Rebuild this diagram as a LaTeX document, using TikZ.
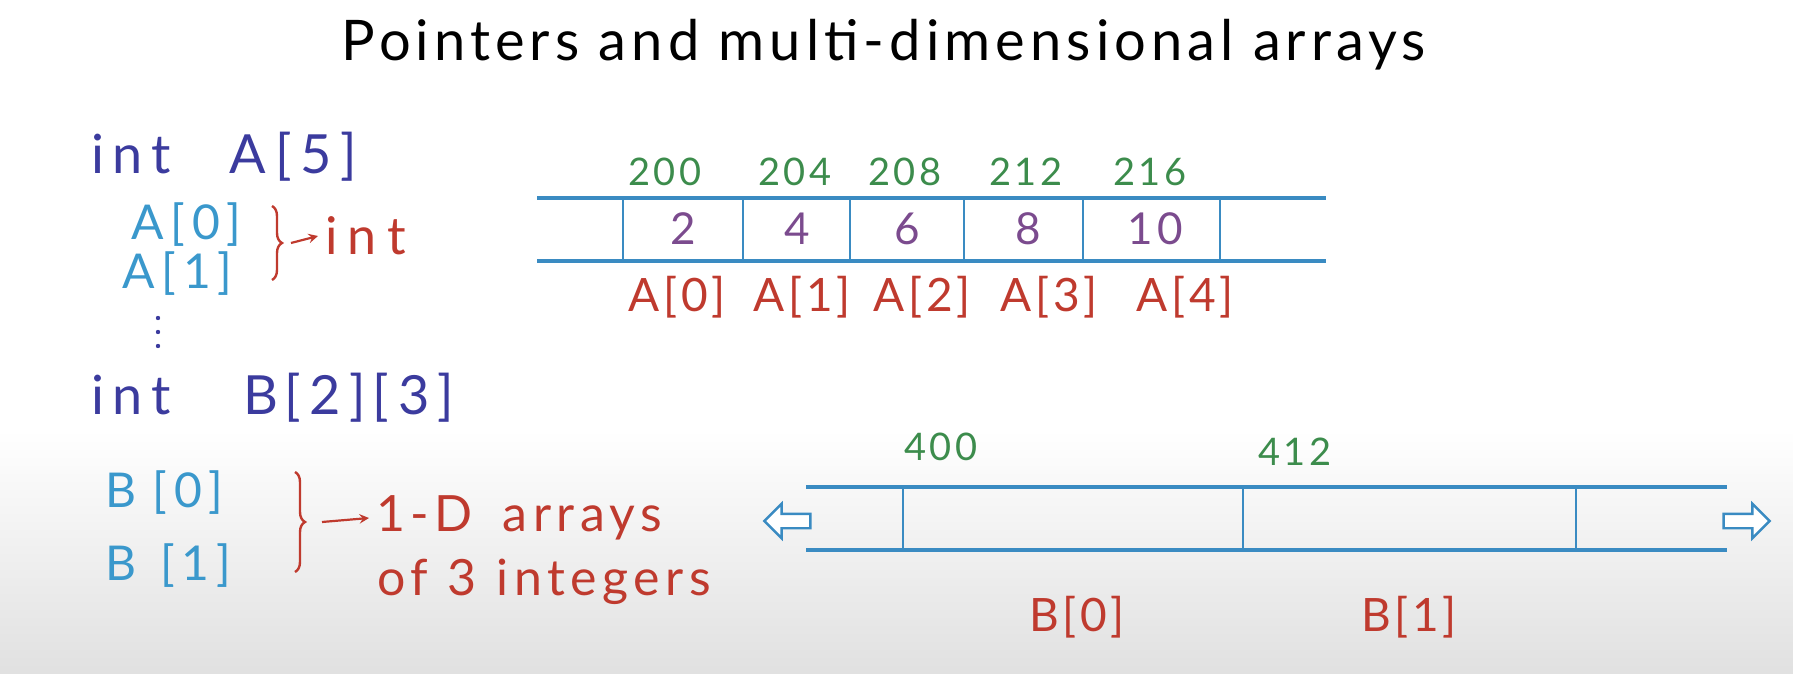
\documentclass[tikz,border=0pt]{standalone}
\usepackage{fontspec}
\setmainfont{Lato}
\usetikzlibrary{decorations.pathreplacing,shapes.arrows}
\definecolor{ink}{HTML}{3B3B9E}
\definecolor{sky}{HTML}{3A98CC}
\definecolor{brick}{HTML}{BF3A2E}
\definecolor{leaf}{HTML}{3C8C4C}
\definecolor{plum}{HTML}{7B4B8E}
\definecolor{arrline}{HTML}{3A8BC2}
\begin{document}
\begin{tikzpicture}[x=0.5pt,y=-0.5pt,
  titletext/.style={text=black, font=\fontsize{28}{31}\selectfont\addfontfeature{LetterSpace=9}},
  decl/.style={text=ink, font=\fontsize{27}{30}\selectfont\addfontfeature{LetterSpace=16}},
  elem/.style={text=sky, font=\fontsize{24}{27}\selectfont\addfontfeature{LetterSpace=14}},
  note/.style={text=brick, font=\fontsize{25}{28}\selectfont\addfontfeature{LetterSpace=11}},
  addr/.style={text=leaf, font=\fontsize{19}{22}\selectfont\addfontfeature{LetterSpace=10}},
  val/.style={text=plum, font=\fontsize{22}{25}\selectfont\addfontfeature{LetterSpace=10}},
  lbl/.style={text=brick, font=\fontsize{23}{26}\selectfont\addfontfeature{LetterSpace=8}},
  rail/.style={draw=arrline, line width=1.8pt},
  sep/.style={draw=arrline, line width=1.1pt},
  bracestyle/.style={draw=brick, line width=1.2pt, decorate, decoration={brace, amplitude=5pt}},
  pointer/.style={draw=brick, line width=1.1pt, -stealth},
  hollow/.style={single arrow, draw=arrline, fill=white, line width=1.2pt, minimum height=23pt, inner sep=3pt, single arrow head extend=5pt}
]
\useasboundingbox (0,0) rectangle (1793,674);
\shade[top color=white, bottom color=black!12] (0,430) rectangle (1793,674);

% title
\node[titletext] (title) at (884,45) {Pointers and multi-dimensional arrays};

% left column
\node[decl, anchor=west] (declA) at (84,157) {int\hspace{1.1em}A[5]};
\node[elem, anchor=west] (a0) at (124,225) {A\hspace{0.15em}[0]};
\node[elem, anchor=west] (a1) at (115,274) {A\hspace{0.15em}[1]};
\fill[ink] (158,318) circle (2.2) (158,332) circle (2.2) (158,346) circle (2.2);
\coordinate (dots) at (158,332);
\draw[bracestyle] (272,206) -- (272,280);
\coordinate (braceA) at (291,243);
\node[note, anchor=west, font=\fontsize{26}{28}\selectfont\addfontfeature{LetterSpace=20}] (intA) at (318,236) {int};
\draw[pointer] (braceA) -- (intA.west);

\node[decl, anchor=west] (declB) at (84,398) {int\hspace{1.35em}B\hspace{0.12em}[2]\hspace{0.12em}[3]};
\node[elem, anchor=west] (b0) at (98,493) {B\hspace{0.35em}[0]};
\node[elem, anchor=west] (b1) at (98,566) {B\hspace{0.5em}[1]};
\draw[bracestyle] (295,472) -- (295,572);
\coordinate (braceB) at (322,522);
\node[note, anchor=west] (oned) at (369,518) {1-D\hspace{0.6em}arrays};
\node[note, anchor=west] (ofint) at (370,582) {of\hspace{0.4em}3\hspace{0.4em}integers};
\draw[pointer] (braceB) -- (oned.west);

% array A
\draw[rail] (537,198) -- (1326,198);
\draw[rail] (537,261) -- (1326,261);
\foreach \xx in {623,743,850,964,1083,1220} {\draw[sep] (\xx,198) -- (\xx,261);}
\node[val] (v0) at (683,229) {2};
\node[val] (v1) at (797,229) {4};
\node[val] (v2) at (907,229) {6};
\node[val] (v3) at (1028,229) {8};
\node[val] (v4) at (1155,229) {10};
\node[addr] (ad0) at (665,172) {200};
\node[addr] (ad1) at (795,172) {204};
\node[addr] (ad2) at (905,172) {208};
\node[addr] (ad3) at (1026,172) {212};
\node[addr] (ad4) at (1150,172) {216};
\node[lbl] (la0) at (677,297) {A[0]};
\node[lbl] (la1) at (802,297) {A[1]};
\node[lbl] (la2) at (922,297) {A[2]};
\node[lbl] (la3) at (1049,297) {A[3]};
\node[lbl] (la4) at (1185,297) {A[4]};

% array B
\draw[rail] (806,487) -- (1727,487);
\draw[rail] (806,550) -- (1727,550);
\foreach \xx in {903,1243,1576} {\draw[sep] (\xx,487) -- (\xx,550);}
\node[hollow, shape border rotate=180] (larrow) at (791,521) {};
\node[hollow] (rarrow) at (1743,521) {};
\node[addr] (bd0) at (941,447) {400};
\node[addr] (bd1) at (1295,452) {412};
\node[lbl] (lb0) at (1077,617) {B[0]};
\node[lbl] (lb1) at (1409,617) {B[1]};
\end{tikzpicture}
\end{document}
